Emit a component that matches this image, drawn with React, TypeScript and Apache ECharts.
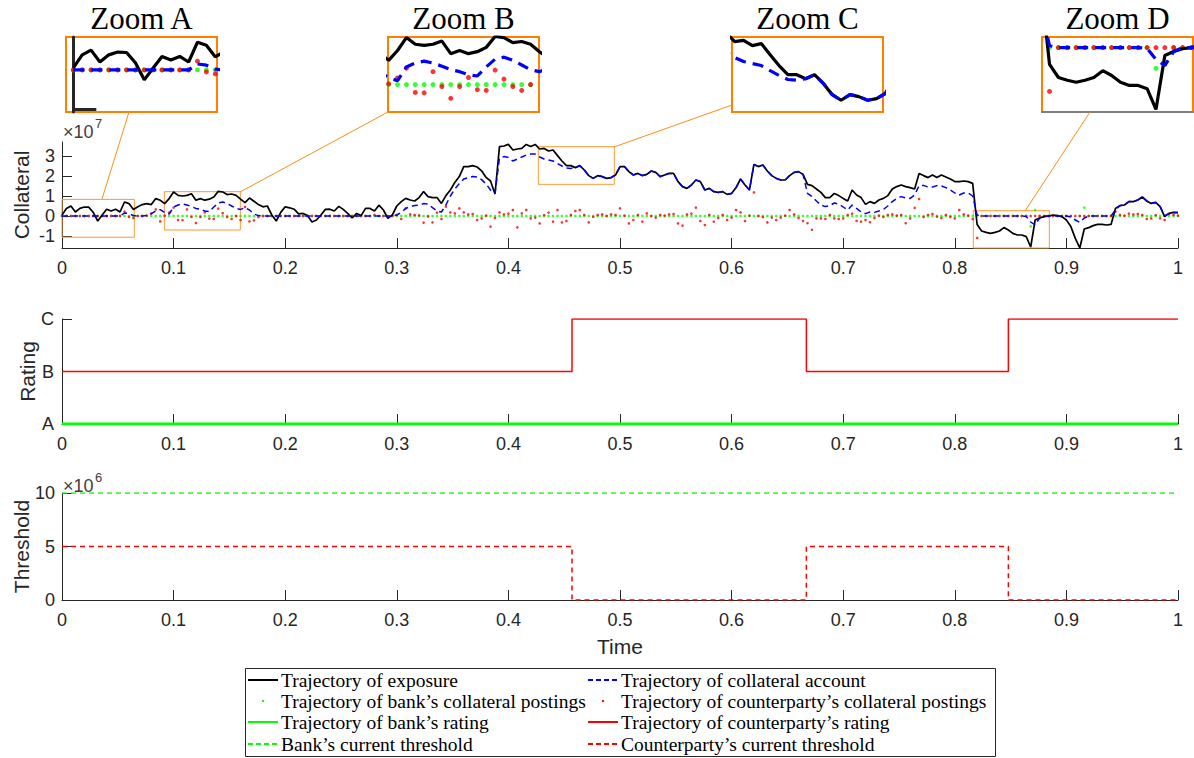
import React, { useEffect, useRef } from "react";
import * as echarts from "echarts";

// ---------- data (collateral values in units of 1e7, thresholds in 1e6) ----------
const DAYS = 250; // daily grid over one year (t = day / DAYS)

const exposure = [
  0.05, 0.38, 0.5, 0.2, 0.38, 0.45, 0.44, 0.18, -0.25, 0.05,
  0.34, 0.25, 0.34, 0.2, 0.7, 0.62, 0.33, 0.46, 0.57, 0.62,
  0.57, 0.87, 0.79, 0.62, 0.87, 1.2, 1.03, 1.0, 1.03, 1.11,
  0.79, 0.87, 0.79, 0.84, 0.95, 1.23, 1.2, 1.07, 1.1, 1.03,
  0.84, 0.67, 0.9, 0.74, 0.57, 0.46, 0.5, 0.05, -0.25, 0.18,
  0.46, 0.41, 0.34, 0.11, 0.13, 0.02, -0.3, -0.2, 0.05, 0.33,
  0.34, 0.25, 0.48, 0.33, 0.13, -0.1, 0.13, 0.02, 0.38, 0.38,
  0.25, 0.54, 0.3, -0.12, 0.05, 0.5, 0.72, 0.88, 0.8, 0.75,
  0.92, 1.22, 0.97, 0.92, 0.92, 0.63, 1.02, 1.3, 1.68, 1.97,
  2.47, 2.47, 2.52, 2.45, 2.26, 1.93, 1.75, 1.1, 3.47, 3.5,
  3.58, 3.3, 3.35, 3.38, 3.58, 3.47, 3.58, 3.35, 3.38, 3.25,
  3.3, 3.02, 2.75, 2.52, 2.52, 2.42, 2.52, 2.3, 2.02, 1.88,
  2.02, 1.97, 1.88, 1.92, 2.05, 2.47, 2.47, 2.22, 2.05, 2.13,
  2.02, 2.08, 2.25, 2.18, 1.97, 2.05, 2.13, 2.13, 1.72, 1.47,
  1.38, 1.55, 1.8, 1.72, 1.3, 1.38, 1.22, 1.18, 1.22, 1.08,
  1.13, 1.42, 1.85, 1.55, 1.3, 2.58, 2.47, 2.55, 2.25, 2.02,
  1.88, 1.8, 1.8, 2.02, 2.18, 2.22, 2.08, 1.58, 1.52, 1.35,
  1.18, 0.92, 0.92, 1.13, 1.02, 0.88, 0.75, 1.3, 1.05, 0.92,
  0.58, 0.72, 0.63, 0.8, 0.88, 1.02, 1.35, 1.47, 1.55, 1.47,
  1.42, 1.35, 2.13, 2.02, 1.92, 2.05, 1.92, 2.05, 1.95, 1.85,
  1.72, 1.72, 1.75, 1.72, 1.63, -0.42, -0.75, -0.82, -0.87, -0.82,
  -0.75, -0.58, -0.7, -0.87, -0.95, -0.95, -1.03, -1.55, -0.2, -0.1,
  -0.03, 0, 0.05, 0.02, -0.03, -0.2, -0.53, -1.12, -1.6, -0.65,
  -0.58, -0.48, -0.42, -0.42, -0.45, -0.42, 0.38, 0.52, 0.55, 0.72,
  0.72, 0.8, 0.95, 0.75, 0.63, 0.68, 0.47, -0.03, 0.13, 0.18,
  0.17,
];

const collateral = [
  0, 0, 0, 0, 0, 0, 0, 0, 0, 0,
  0, 0, 0, 0, 0.15, 0.12, 0.02, 0, 0, 0.02,
  0.12, 0.25, 0.32, 0.18, 0.1, 0.45, 0.55, 0.6, 0.55, 0.47,
  0.38, 0.33, 0.25, 0.22, 0.45, 0.65, 0.7, 0.62, 0.5, 0.38,
  0.33, 0.42, 0.3, 0.1, 0.02, 0, 0, 0, 0, 0,
  0, 0, 0, 0, 0, 0, 0, 0, 0, 0,
  0, 0, 0, 0, 0, 0, 0, 0, 0, 0,
  0, 0, 0, 0, 0, 0.05, 0.18, 0.38, 0.47, 0.52,
  0.55, 0.62, 0.6, 0.42, 0.25, 0.2, 0.55, 1.0, 1.35, 1.62,
  1.85, 1.92, 1.97, 1.95, 1.82, 1.6, 1.3, 1.12, 2.9, 2.97,
  2.92, 2.75, 2.85, 2.95, 3.05, 3.1, 3.1, 2.95, 2.85, 2.8,
  2.75, 2.62, 2.5, 2.4, 2.38, 2.42, 2.52, 2.3, 2.02, 1.88,
  2.02, 1.97, 1.88, 1.92, 2.05, 2.47, 2.47, 2.22, 2.05, 2.13,
  2.02, 2.08, 2.25, 2.18, 1.97, 2.05, 2.13, 2.13, 1.72, 1.47,
  1.38, 1.55, 1.8, 1.72, 1.3, 1.38, 1.22, 1.18, 1.22, 1.08,
  1.13, 1.42, 1.85, 1.55, 1.3, 2.58, 2.47, 2.55, 2.25, 2.02,
  1.88, 1.8, 1.8, 2.02, 2.18, 2.22, 2.08, 1.13, 0.97, 0.75,
  0.55, 0.47, 0.52, 0.65, 0.6, 0.45, 0.3, 0.55, 0.38, 0.2,
  0.12, 0.2, 0.18, 0.25, 0.33, 0.5, 0.72, 0.88, 0.97, 0.9,
  0.88, 1.05, 1.52, 1.53, 1.45, 1.45, 1.52, 1.5, 1.42, 1.3,
  1.15, 1.05, 1.15, 1.15, 1.0, 0.05, 0, 0, 0, 0,
  0, 0, 0, 0, 0, 0, -0.02, -0.3, -0.45, -0.1,
  0, 0, 0, 0, 0, 0, -0.05, -0.2, -0.32, -0.1,
  0, 0, 0, 0, 0, 0, 0.3, 0.52, 0.55, 0.72,
  0.72, 0.8, 0.95, 0.75, 0.63, 0.68, 0.47, 0.02, 0.13, 0.18,
  0.17,
];

const counterpartyPostings = [
  0, 0, 0, 0, 0, 0, 0, 0, 0, 0,
  0, 0, 0, 0, 0.22, -0.05, -0.1, 0, 0, 0.02,
  0.12, 0.33, -0.27, 0.02, 0.17, 0.42, -0.2, -0.21, 0.33, -0.05,
  -0.35, -0.05, 0.18, -0.13, -0.15, 0.37, 0.14, -0.05, -0.15, 0,
  -0.2, 0.45, -0.27, -0.22, -0.05, 0, 0, 0, 0, 0,
  0, 0, 0, 0, 0, 0, 0, 0, 0, 0,
  0, 0, 0, 0, 0, 0, 0, 0, 0, 0,
  0.06, 0, 0, -0.05, 0, 0.05, -0.15, 0.38, 0.08, 0.05,
  0.03, -0.33, -0.02, -0.32, 0.17, -0.15, 0.47, 0.18, 0.13, 0.38,
  0.18, 0.08, 0.1, -0.2, -0.12, 0.02, -0.53, -0.1, 0.18, 0.08,
  0.12, 0.3, -0.57, 0.13, 0.3, -0.12, -0.08, -0.37, 0.04, 0.17,
  -0.28, 0.3, -0.32, -0.25, 0.05, 0.25, 0.3, 0.05, -0.32, -0.04,
  0.05, 0.08, 0, 0.08, 0.05, 0.38, 0.02, -0.37, -0.2, 0.05,
  -0.28, 0.13, 0, -0.08, 0.05, 0.02, 0.08, 0.1, -0.37, -0.48,
  0.08, 0.12, 0.42, -0.25, -0.45, 0.05, -0.28, -0.1, 0.05, -0.2,
  -0.08, 0.3, 0.18, -0.25, 0.02, 1.18, 0, -0.05, -0.32, -0.08,
  -0.2, -0.08, 0.02, 0.3, 0.08, -0.1, -0.25, -0.36, -0.69, -0.12,
  -0.12, -0.15, 0.05, -0.12, -0.15, -0.12, 0.05, 0.12, -0.25, -0.28,
  -0.2, -0.31, -0.1, 0.02, -0.05, 0.05, 0.08, 0.02, 0.05, -0.36,
  -0.12, 0.41, 0.85, -0.05, 0.05, 0.1, -0.03, -0.1, 0.05, -0.05,
  -0.12, 0.3, 0.08, 0.02, -0.15, -1.1, 0, 0, 0, 0,
  0, 0, 0, 0, 0, 0, 0, 0, 0, 0,
  0, 0, 0, 0, 0, 0, 0, 0, 0, 0,
  0, 0, 0, 0, 0, 0, 0.22, 0.05, 0.02, 0.12,
  0.08, 0.1, 0.05, -0.15, -0.12, 0.04, -0.12, -0.2, 0.1, 0.05,
  0.02,
];

const bankPostings = [
  0, 0, 0, 0, 0, 0, 0, 0, 0, 0,
  0, 0, 0, 0, 0, 0, 0, 0, 0, 0,
  0, 0, 0, 0, 0, 0, 0, 0, 0, 0,
  0, 0, 0, 0, 0, 0, 0, 0, 0, 0,
  0, 0, 0, 0, 0, 0, 0, 0, 0, 0,
  0, 0, 0, 0, 0, 0, 0, 0, 0, 0,
  0, 0, 0, 0, 0, 0, 0, 0, 0, 0,
  0, 0, 0, 0, 0, 0, 0, 0, 0, 0,
  0, 0, 0, 0, 0, 0, 0, 0, 0, 0,
  0, 0, 0, 0, 0, 0, 0, 0, 0, 0,
  0, 0, 0, 0, 0, 0, 0, 0, 0, 0,
  0, 0, 0, 0, 0, 0, 0, 0, 0, 0,
  0, 0, 0, 0, 0, 0, 0, 0, 0, 0,
  0, 0, 0, 0, 0, 0, 0, 0, 0, 0,
  0, 0, 0, 0, 0, 0, 0, 0, 0, 0,
  0, 0, 0, 0, 0, 0, 0, 0, 0, 0,
  0, 0, 0, 0, 0, 0, 0, 0, 0, 0,
  0, 0, 0, 0, 0, 0, 0, 0, 0, 0,
  0, 0, 0, 0, 0, 0, 0, 0, 0, 0,
  0, 0, 0, 0, 0, 0, 0, 0, 0, 0,
  0, 0, 0, 0, 0, 0, 0, 0, 0, 0,
  0, 0, 0, 0, 0, 0, 0, -0.52, 0.3, 0,
  0, 0, 0, 0, 0, 0, 0, -0.2, 0, 0.42,
  0, 0, 0, 0, 0, 0, 0, 0, 0, 0,
  0, 0, 0, 0, 0, 0, 0, 0, 0, 0,
  0,
];

// ratings: 0 = A, 1 = B, 2 = C
const ratingLabels = ["A", "B", "C"];
const switchTimes = [0, 0.457, 0.667, 0.848, 1];
const counterpartyRating = [1, 2, 1, 2, 2];
const bankRating = [0, 0, 0, 0, 0];
const counterpartyThreshold = [5, 0, 5, 0, 0];
const bankThreshold = [10, 10, 10, 10, 10];

const collateralTicks = [-1, 0, 1, 2, 3];

// zoom insets (data windows)
const zoomLabels = ["Zoom A", "Zoom B", "Zoom C", "Zoom D"];
const zoomTimeMin = [-0.0033, 0.0917, 0.4268, 0.8166];
const zoomTimeMax = [0.0648, 0.1598, 0.4949, 0.8847];
const zoomValMin = [-1.06, -0.7, 1.585, -1.615];
const zoomValMax = [0.83, 1.215, 3.465, 0.265];

const legendNames = [
  "Trajectory of exposure",
  "Trajectory of collateral account",
  "Trajectory of bank\u2019s collateral postings",
  "Trajectory of counterparty\u2019s collateral postings",
  "Trajectory of bank\u2019s rating",
  "Trajectory of counterparty\u2019s rating",
  "Bank\u2019s current threshold",
  "Counterparty\u2019s current threshold",
];

// ---------- style ----------
const AX = "#262626";
const SANS = "Liberation Sans, Arial, sans-serif";
const SERIF = "Liberation Serif, Times New Roman, serif";
const ORANGE = "#FF8000";
const BLACK = "#000000";
const BLUE = "#0000FF";
const GREEN = "#00FF00";
const RED = "#FF0000";

const PLOT_L = 62;
const PLOT_W = 1116;
const INSET_L = [66, 388, 732, 1042];
const INSET_T = 37;
const INSET_W = 151;
const INSET_H = 75;

function buildOption() {
  const t = exposure.map((_, i) => i / DAYS);
  const pts = (arr: number[]) => arr.map((v, i) => [t[i], v]);
  const steps = (arr: number[]) => arr.map((v, i) => [switchTimes[i], v]);

  const gridBase = { outerBoundsMode: "none", containLabel: false };
  const grids: any[] = [
    { ...gridBase, left: PLOT_L, top: 142, width: PLOT_W, height: 106 },
    { ...gridBase, left: PLOT_L, top: 319, width: PLOT_W, height: 105 },
    { ...gridBase, left: PLOT_L, top: 493, width: PLOT_W, height: 107 },
  ];
  INSET_L.forEach((l) =>
    grids.push({
      ...gridBase,
      show: true,
      left: l,
      top: INSET_T,
      width: INSET_W,
      height: INSET_H,
      borderColor: ORANGE,
      borderWidth: 2,
      backgroundColor: "#ffffff",
    })
  );

  const mainX = (gridIndex: number, extra: any = {}) => ({
    type: "value",
    gridIndex,
    min: 0,
    max: 1,
    interval: 0.1,
    axisLine: { onZero: false, lineStyle: { color: AX, width: 1 } },
    axisTick: { inside: true, length: 10, lineStyle: { color: AX } },
    axisLabel: { color: AX, fontSize: 18, fontFamily: SANS, margin: 11 },
    splitLine: { show: false },
    ...extra,
  });

  const xAxes: any[] = [
    mainX(0),
    mainX(1),
    mainX(2, {
      name: "Time",
      nameLocation: "middle",
      nameGap: 36,
      nameMoveOverlap: false,
      nameTextStyle: { color: AX, fontSize: 21, fontFamily: SANS },
    }),
  ];
  const yName = (name: string, gap: number) => ({
    name,
    nameLocation: "middle",
    nameRotate: 90,
    nameGap: gap,
    nameMoveOverlap: false,
    nameTextStyle: { color: AX, fontSize: 21, fontFamily: SANS },
  });
  const yAxes: any[] = [
    {
      type: "value",
      gridIndex: 0,
      min: -1.6,
      max: 3.7,
      axisLine: { show: true, onZero: false, lineStyle: { color: AX } },
      axisTick: { show: true, inside: true, length: 10, customValues: collateralTicks, lineStyle: { color: AX } },
      axisLabel: { color: AX, fontSize: 18, fontFamily: SANS, margin: 7, customValues: collateralTicks },
      splitLine: { show: false },
      ...yName("Collateral", 30),
    },
    {
      type: "value",
      gridIndex: 1,
      min: 0,
      max: 2,
      interval: 1,
      axisLine: { show: true, onZero: false, lineStyle: { color: AX } },
      axisTick: { show: true, inside: true, length: 10, lineStyle: { color: AX } },
      axisLabel: {
        color: AX,
        fontSize: 18,
        fontFamily: SANS,
        margin: 8,
        formatter: (v: number) => ratingLabels[Math.round(v)] ?? "",
      },
      splitLine: { show: false },
      ...yName("Rating", 24),
    },
    {
      type: "value",
      gridIndex: 2,
      min: 0,
      max: 10,
      interval: 5,
      axisLine: { show: true, onZero: false, lineStyle: { color: AX } },
      axisTick: { show: true, inside: true, length: 10, lineStyle: { color: AX } },
      axisLabel: { color: AX, fontSize: 18, fontFamily: SANS, margin: 7 },
      splitLine: { show: false },
      ...yName("Threshold", 30),
    },
  ];

  zoomLabels.forEach((_, k) => {
    const gi = 3 + k;
    xAxes.push({
      type: "value",
      gridIndex: gi,
      min: zoomTimeMin[k],
      max: zoomTimeMax[k],
      axisLine: {
        show: k === 3,
        onZero: false,
        lineStyle: { color: "#7f7f7f", width: 2 },
      },
      axisTick: { show: false },
      axisLabel: { show: false },
      splitLine: { show: false },
    });
    yAxes.push({
      type: "value",
      gridIndex: gi,
      min: zoomValMin[k],
      max: zoomValMax[k],
      axisLine: { show: k === 0, onZero: true, lineStyle: { color: AX, width: 3 } },
      axisTick: {
        show: k === 0,
        inside: true,
        length: 23,
        customValues: [-1],
        lineStyle: { color: AX, width: 3 },
      },
      axisLabel: { show: false },
      splitLine: { show: false },
    });
  });

  const series: any[] = [];
  const addTrajectories = (axisIndex: number, big: boolean) => {
    const common = { xAxisIndex: axisIndex, yAxisIndex: axisIndex, silent: true };
    series.push({
      ...common,
      type: "scatter",
      name: legendNames[2],
      data: pts(bankPostings),
      symbol: "circle",
      symbolSize: big ? 5 : 2.6,
      itemStyle: { color: GREEN },
      z: 2,
    });
    series.push({
      ...common,
      type: "scatter",
      name: legendNames[3],
      data: pts(counterpartyPostings),
      symbol: "circle",
      symbolSize: big ? 5 : 2.6,
      itemStyle: { color: RED },
      z: 3,
    });
    const exp: any = {
      ...common,
      type: "line",
      name: legendNames[0],
      data: pts(exposure),
      showSymbol: false,
      lineStyle: { color: BLACK, width: big ? 3.2 : 1.7 },
      itemStyle: { color: BLACK },
      z: 4,
    };
    if (!big) {
      exp.markArea = {
        silent: true,
        label: { show: false },
        itemStyle: { color: "rgba(0,0,0,0)", borderColor: "#FF9933", borderWidth: 1 },
        data: zoomLabels.map((_, k) => [
          { xAxis: zoomTimeMin[k], yAxis: zoomValMax[k] },
          { xAxis: zoomTimeMax[k], yAxis: zoomValMin[k] },
        ]),
      };
    }
    series.push(exp);
    series.push({
      ...common,
      type: "line",
      name: legendNames[1],
      data: pts(collateral),
      showSymbol: false,
      lineStyle: { color: BLUE, width: big ? 3.2 : 1.5, type: big ? [11, 7] : [6, 4] },
      itemStyle: { color: BLUE },
      z: 5,
    });
  };
  addTrajectories(0, false);
  zoomLabels.forEach((_, k) => addTrajectories(3 + k, true));

  series.push({
    type: "line",
    name: legendNames[4],
    xAxisIndex: 1,
    yAxisIndex: 1,
    data: steps(bankRating),
    step: "end",
    showSymbol: false,
    lineStyle: { color: GREEN, width: 3 },
    itemStyle: { color: GREEN },
    z: 4,
    silent: true,
  });
  series.push({
    type: "line",
    name: legendNames[5],
    xAxisIndex: 1,
    yAxisIndex: 1,
    data: steps(counterpartyRating),
    step: "end",
    showSymbol: false,
    lineStyle: { color: RED, width: 1.5 },
    itemStyle: { color: RED },
    z: 4,
    silent: true,
  });
  series.push({
    type: "line",
    name: legendNames[6],
    xAxisIndex: 2,
    yAxisIndex: 2,
    data: steps(bankThreshold),
    step: "end",
    showSymbol: false,
    lineStyle: { color: GREEN, width: 1.5, type: [5, 4] },
    itemStyle: { color: GREEN },
    z: 4,
    silent: true,
  });
  series.push({
    type: "line",
    name: legendNames[7],
    xAxisIndex: 2,
    yAxisIndex: 2,
    data: steps(counterpartyThreshold),
    step: "end",
    showSymbol: false,
    lineStyle: { color: RED, width: 1.5, type: [5, 4] },
    itemStyle: { color: RED },
    z: 4,
    silent: true,
  });

  // ---------- graphic: titles, exponents, connectors, legend ----------
  const graphic: any[] = [];
  zoomLabels.forEach((lab, k) => {
    graphic.push({
      type: "text",
      x: INSET_L[k] + INSET_W / 2,
      y: 18,
      style: {
        text: lab,
        fontSize: 31,
        fontFamily: SERIF,
        fill: "#000",
        textAlign: "center",
        textVerticalAlign: "middle",
      },
    });
  });
  const expo = (x: number, y: number, e: string) => {
    graphic.push({
      type: "text",
      x,
      y,
      style: { text: "\u00d710", fontSize: 18, fontFamily: SANS, fill: "#404040", textVerticalAlign: "middle" },
    });
    graphic.push({
      type: "text",
      x: x + 32,
      y: y - 9,
      style: { text: e, fontSize: 13, fontFamily: SANS, fill: "#404040", textVerticalAlign: "middle" },
    });
  };
  expo(63, 132, "7");
  expo(63, 486, "6");

  const connectors = [
    [129, 112, 102, 199],
    [388, 112, 240, 192],
    [614, 147, 732, 105],
    [1025, 211, 1090, 112],
  ];
  connectors.forEach(([x1, y1, x2, y2]) =>
    graphic.push({
      type: "line",
      shape: { x1, y1, x2, y2 },
      style: { stroke: "#FF8C1A", lineWidth: 1 },
      z: 10,
    })
  );

  // legend box
  graphic.push({
    type: "rect",
    shape: { x: 245.5, y: 668.5, width: 750, height: 88 },
    style: { fill: "#fff", stroke: AX, lineWidth: 1 },
    z: 1,
  });
  const rowsY = [680, 701, 722, 744];
  const colSym = [248, 588];
  const colText = [281, 621];
  const legendSym = [
    { kind: "line", color: BLACK, dash: null, w: 2 },
    { kind: "line", color: BLUE, dash: [5, 3], w: 2 },
    { kind: "dot", color: GREEN },
    { kind: "dot", color: RED },
    { kind: "line", color: GREEN, dash: null, w: 2 },
    { kind: "line", color: RED, dash: null, w: 2 },
    { kind: "line", color: GREEN, dash: [5, 3], w: 2 },
    { kind: "line", color: RED, dash: [5, 3], w: 2 },
  ];
  legendNames.forEach((name, i) => {
    const col = i % 2;
    const row = Math.floor(i / 2);
    const y = rowsY[row];
    const s: any = legendSym[i];
    if (s.kind === "line") {
      graphic.push({
        type: "line",
        shape: { x1: colSym[col], y1: y, x2: colSym[col] + 30, y2: y },
        style: { stroke: s.color, lineWidth: s.w, lineDash: s.dash || undefined },
        z: 2,
      });
    } else {
      graphic.push({
        type: "circle",
        shape: { cx: colSym[col] + 15, cy: y, r: 1.2 },
        style: { fill: s.color },
        z: 2,
      });
    }
    graphic.push({
      type: "text",
      x: colText[col],
      y,
      style: {
        text: name,
        fontSize: 19.5,
        fontFamily: SERIF,
        fill: "#000",
        textAlign: "left",
        textVerticalAlign: "middle",
      },
      z: 2,
    });
  });

  return {
    animation: false,
    backgroundColor: "#ffffff",
    grid: grids,
    xAxis: xAxes,
    yAxis: yAxes,
    series,
    graphic,
  };
}

export default function App() {
  const ref = useRef<HTMLDivElement>(null);
  useEffect(() => {
    if (!ref.current) return;
    const chart = echarts.init(ref.current, null, { renderer: "svg" });
    chart.setOption(buildOption() as any);
    return () => chart.dispose();
  }, []);
  return (
    <div
      ref={ref}
      style={{ position: "absolute", left: 0, top: 0, width: 1194, height: 758, background: "#fff" }}
    />
  );
}
